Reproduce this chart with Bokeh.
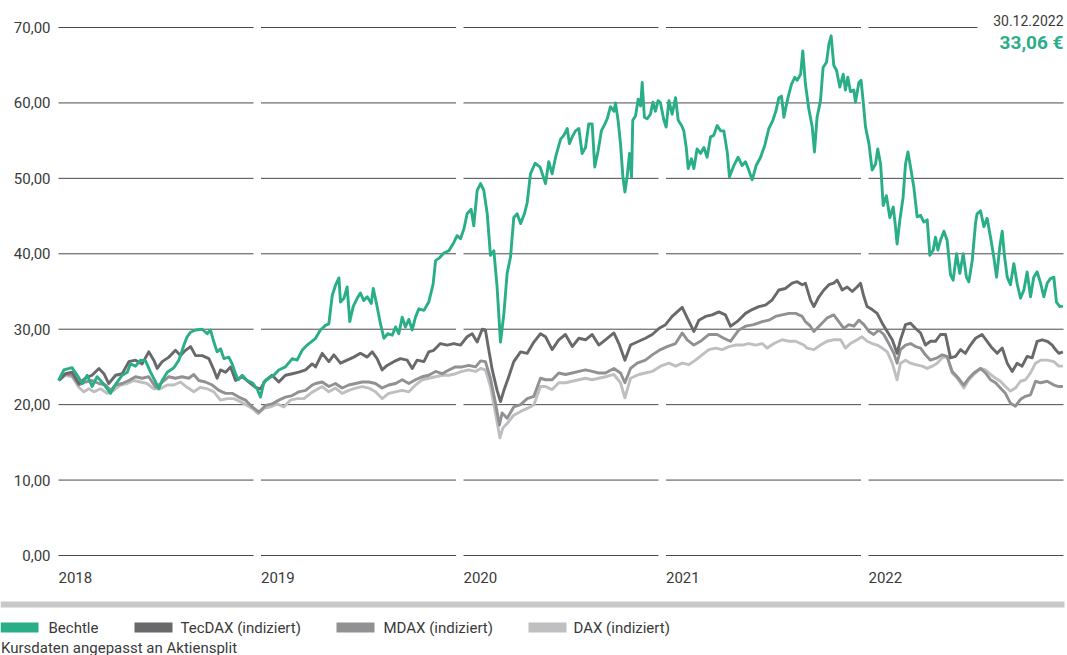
from bokeh.plotting import figure
from bokeh.models import Range1d
from bokeh.core.properties import value
from bokeh.embed import file_html
from bokeh.resources import INLINE

# ---------------- data ----------------
year_labels = ["2018", "2019", "2020", "2021", "2022"]
y_tick_values = [0, 10, 20, 30, 40, 50, 60, 70]
series_names = ["Bechtle", "TecDAX (indiziert)", "MDAX (indiziert)", "DAX (indiziert)"]
series_colors = ["#2aae88", "#69696c", "#919194", "#bfbfc2"]
last_date_label = "30.12.2022"
last_price = 33.06
footnote = "Kursdaten angepasst an Aktiensplit"

# x values: years elapsed since 1 Jan 2018
bechtle_t = [
    0.000, 0.027, 0.068, 0.093, 0.118, 0.143, 0.167, 0.192, 0.226, 0.259,
    0.284, 0.317, 0.342, 0.358, 0.383, 0.408, 0.433, 0.458, 0.483, 0.499,
    0.516, 0.541, 0.574, 0.599, 0.624, 0.640, 0.657, 0.682, 0.715, 0.740,
    0.756, 0.773, 0.789, 0.806, 0.823, 0.847, 0.864, 0.881, 0.894, 0.914,
    0.939, 0.964, 0.988, 1.005, 1.022, 1.046, 1.071, 1.096, 1.129, 1.163,
    1.187, 1.212, 1.237, 1.279, 1.303, 1.328, 1.345, 1.362, 1.378, 1.395,
    1.403, 1.420, 1.436, 1.449, 1.466, 1.486, 1.502, 1.519, 1.536, 1.556,
    1.566, 1.582, 1.602, 1.619, 1.638, 1.660, 1.677, 1.693, 1.710, 1.726,
    1.743, 1.760, 1.776, 1.793, 1.818, 1.842, 1.864, 1.876, 1.897, 1.917,
    1.942, 1.967, 1.983, 2.000, 2.017, 2.033, 2.053, 2.066, 2.083, 2.100,
    2.116, 2.133, 2.149, 2.166, 2.182, 2.199, 2.216, 2.232, 2.249, 2.265,
    2.282, 2.299, 2.318, 2.332, 2.348, 2.371, 2.396, 2.423, 2.439, 2.456,
    2.473, 2.498, 2.514, 2.531, 2.542, 2.556, 2.572, 2.589, 2.605, 2.622,
    2.638, 2.655, 2.668, 2.685, 2.701, 2.718, 2.730, 2.746, 2.763, 2.771,
    2.784, 2.796, 2.808, 2.818, 2.829, 2.841, 2.851, 2.857, 2.871, 2.884,
    2.896, 2.904, 2.915, 2.929, 2.945, 2.957, 2.970, 2.983, 2.995, 3.012,
    3.023, 3.037, 3.053, 3.070, 3.083, 3.100, 3.111, 3.123, 3.133, 3.149,
    3.161, 3.177, 3.194, 3.211, 3.227, 3.244, 3.260, 3.277, 3.294, 3.310,
    3.327, 3.338, 3.360, 3.381, 3.401, 3.418, 3.434, 3.451, 3.471, 3.493,
    3.514, 3.534, 3.554, 3.570, 3.584, 3.597, 3.609, 3.620, 3.634, 3.647,
    3.663, 3.675, 3.692, 3.703, 3.716, 3.733, 3.750, 3.761, 3.774, 3.791,
    3.804, 3.821, 3.833, 3.844, 3.857, 3.871, 3.887, 3.904, 3.915, 3.927,
    3.940, 3.957, 3.965, 3.982, 3.993, 4.003, 4.015, 4.032, 4.048, 4.065,
    4.076, 4.090, 4.103, 4.119, 4.136, 4.153, 4.164, 4.172, 4.186, 4.202,
    4.214, 4.226, 4.239, 4.255, 4.272, 4.289, 4.305, 4.322, 4.335, 4.352,
    4.363, 4.375, 4.388, 4.405, 4.421, 4.438, 4.451, 4.468, 4.484, 4.501,
    4.517, 4.529, 4.546, 4.562, 4.570, 4.587, 4.604, 4.620, 4.637, 4.653,
    4.667, 4.683, 4.695, 4.706, 4.720, 4.736, 4.753, 4.769, 4.786, 4.803,
    4.819, 4.836, 4.852, 4.869, 4.886, 4.902, 4.919, 4.935, 4.952, 4.965,
    4.982, 4.997,
]
bechtle_v = [
    23.2, 24.6, 24.9, 23.9, 22.8, 23.9, 22.4, 23.7, 22.7, 21.5,
    22.7, 23.9, 24.3, 25.4, 25.1, 25.9, 25.8, 24.3, 23.0, 22.1,
    23.2, 24.3, 24.9, 25.9, 27.9, 29.0, 29.6, 29.9, 30.0, 29.4,
    29.9, 28.3, 27.0, 27.4, 26.1, 26.3, 25.4, 24.1, 23.3, 23.9,
    23.2, 22.9, 22.1, 21.0, 23.0, 23.5, 23.9, 24.6, 25.0, 26.1,
    25.9, 27.2, 27.9, 28.8, 29.9, 30.5, 30.7, 34.5, 35.8, 36.8,
    33.6, 34.1, 35.6, 31.0, 33.0, 34.1, 34.8, 33.8, 34.3, 33.4,
    35.4, 33.4, 30.7, 28.8, 29.4, 29.2, 30.3, 29.4, 31.6, 30.3,
    31.3, 29.9, 31.6, 32.7, 32.5, 33.6, 36.0, 39.1, 39.5, 40.1,
    40.4, 41.5, 42.4, 42.0, 43.3, 45.3, 45.9, 43.7, 48.4, 49.3,
    48.4, 45.3, 39.8, 40.4, 35.6, 28.3, 32.1, 37.4, 39.6, 44.8,
    45.3, 44.0, 45.3, 46.8, 50.6, 52.0, 51.5, 49.3, 52.2, 50.6,
    52.8, 55.2, 55.7, 56.6, 54.6, 55.5, 56.3, 56.6, 53.3, 54.1,
    57.2, 57.2, 51.5, 53.7, 56.3, 57.2, 57.9, 59.5, 58.9, 60.0,
    57.7, 54.6, 50.2, 48.2, 50.2, 53.3, 50.2, 57.7, 58.3, 60.5,
    59.6, 62.7, 58.1, 57.9, 58.5, 60.1, 58.9, 60.3, 60.0, 57.7,
    56.8, 60.3, 58.5, 60.7, 57.7, 57.0, 56.3, 54.1, 51.3, 52.6,
    51.3, 53.9, 53.3, 54.1, 52.8, 55.5, 55.7, 57.0, 56.3, 56.3,
    53.5, 50.2, 51.7, 52.8, 51.7, 52.2, 51.1, 49.8, 51.7, 52.8,
    54.4, 56.6, 57.7, 59.0, 60.7, 60.9, 58.1, 59.6, 61.2, 62.5,
    63.4, 63.0, 63.8, 66.9, 62.5, 59.2, 56.8, 53.5, 58.1, 60.3,
    64.7, 65.4, 67.8, 68.9, 65.0, 64.3, 62.1, 63.8, 61.7, 63.4,
    61.5, 61.7, 60.1, 62.7, 63.0, 60.3, 56.8, 54.6, 51.1, 51.9,
    53.9, 51.9, 46.4, 47.7, 44.8, 46.2, 43.6, 41.3, 44.5, 47.5,
    51.9, 53.5, 51.5, 48.9, 44.9, 45.1, 44.2, 44.5, 39.8, 40.5,
    42.2, 40.5, 41.8, 43.0, 41.8, 37.2, 36.5, 40.0, 37.4, 40.0,
    36.9, 36.3, 39.1, 44.0, 45.3, 45.7, 43.6, 44.7, 42.2, 39.6,
    36.9, 40.9, 43.0, 39.8, 36.9, 35.9, 38.7, 36.1, 34.1, 35.2,
    37.6, 34.3, 36.9, 37.6, 36.1, 34.3, 36.1, 36.7, 36.9, 33.6,
    33.0, 33.06,
]

tecdax_t = [
    0.002, 0.035, 0.068, 0.101, 0.134, 0.167, 0.201, 0.226, 0.250, 0.284,
    0.317, 0.350, 0.383, 0.416, 0.449, 0.474, 0.491, 0.516, 0.549, 0.582,
    0.607, 0.632, 0.657, 0.682, 0.715, 0.748, 0.773, 0.789, 0.806, 0.831,
    0.856, 0.881, 0.914, 0.947, 0.980, 1.005, 1.030, 1.063, 1.096, 1.129,
    1.163, 1.196, 1.229, 1.262,
    1.279, 1.312, 1.345, 1.370, 1.403, 1.436, 1.469, 1.502, 1.536, 1.561,
    1.585, 1.610, 1.635, 1.668, 1.701, 1.735, 1.760, 1.784, 1.818, 1.842,
    1.867, 1.900, 1.934, 1.967, 2.000, 2.033, 2.058, 2.083, 2.108, 2.124,
    2.141, 2.158, 2.182, 2.199, 2.216, 2.240, 2.265, 2.299, 2.332, 2.365,
    2.398,
    2.423, 2.456, 2.489, 2.522, 2.556, 2.589, 2.622, 2.655, 2.688, 2.721,
    2.763, 2.788, 2.818, 2.846, 2.887, 2.920, 2.954, 2.987, 3.020, 3.053,
    3.078, 3.103, 3.128, 3.161, 3.186, 3.219, 3.252, 3.285, 3.318, 3.343,
    3.376, 3.418, 3.451, 3.484, 3.517, 3.551, 3.584, 3.617, 3.650, 3.675,
    3.700,
    3.716, 3.741, 3.758, 3.783, 3.808, 3.833, 3.857, 3.874, 3.899, 3.924,
    3.949, 3.973, 3.990, 4.007, 4.023, 4.048, 4.073, 4.098, 4.123, 4.148,
    4.172, 4.189, 4.214, 4.239, 4.264, 4.289, 4.313, 4.338, 4.363, 4.388,
    4.413, 4.438, 4.463, 4.488, 4.512, 4.537, 4.562, 4.595, 4.620, 4.645,
    4.670, 4.695, 4.720, 4.745, 4.769, 4.794, 4.819, 4.844, 4.869, 4.894,
    4.919, 4.944, 4.960, 4.977, 4.997,
]
tecdax_v = [
    23.2, 24.1, 24.3, 22.8, 23.5, 23.9, 24.8, 24.1, 22.8, 23.9,
    24.1, 25.7, 25.9, 25.4, 27.0, 25.9, 24.8, 25.7, 26.3, 27.2,
    26.5, 27.2, 27.7, 26.5, 26.5, 26.1, 24.6, 23.5, 24.6, 24.3,
    25.0, 23.2, 23.7, 23.0, 22.3, 22.1, 23.2, 23.9, 23.0, 23.9,
    24.1, 24.3, 24.6, 25.4,
    25.0, 26.8, 25.7, 26.6, 25.5, 25.9, 26.3, 26.8, 26.3, 27.0,
    26.1, 24.6, 25.2, 25.7, 26.1, 25.9, 24.8, 25.9, 25.7, 27.0,
    27.2, 28.1, 27.9, 28.1, 27.9, 29.0, 29.4, 28.3, 30.0, 29.9,
    27.2, 24.6, 21.9, 20.4, 21.9, 23.7, 25.7, 27.0, 26.8, 28.3,
    29.4,
    29.0, 27.3, 28.6, 29.3, 27.7, 28.8, 28.6, 29.3, 27.9, 28.6,
    29.5, 28.1, 25.9, 27.9, 28.4, 28.8, 29.3, 30.1, 30.6, 31.7,
    32.3, 32.9, 31.5, 29.7, 31.2, 31.7, 31.9, 32.3, 31.9, 30.4,
    31.0, 32.1, 32.6, 33.0, 33.2, 33.9, 35.2, 35.4, 36.1, 36.3,
    35.9,
    36.1, 33.9, 33.0, 34.3, 35.2, 35.9, 36.1, 36.5, 35.2, 35.6,
    35.0, 35.6, 36.1, 34.3, 33.0, 32.6, 32.1, 30.8, 29.7, 28.6,
    26.8, 28.6, 30.6, 30.8, 30.1, 29.5, 27.9, 28.4, 28.4, 29.3,
    29.3, 26.2, 26.4, 27.3, 26.8, 27.9, 28.8, 29.3, 28.4, 27.5,
    26.8, 27.5, 25.5, 24.4, 25.5, 25.1, 26.4, 26.2, 28.4, 28.6,
    28.4, 27.9, 27.3, 26.8, 27.0,
]

mdax_t = [
    0.002, 0.035, 0.068, 0.101, 0.134, 0.167, 0.201, 0.234, 0.259, 0.284,
    0.317, 0.350, 0.383, 0.416, 0.449, 0.483, 0.516, 0.549, 0.582, 0.615,
    0.648, 0.673, 0.698, 0.731, 0.765, 0.798, 0.831, 0.864, 0.897, 0.930,
    0.964, 0.997, 1.030, 1.063, 1.096, 1.129, 1.163, 1.196, 1.229, 1.262,
    1.279, 1.312, 1.345, 1.378, 1.411, 1.444, 1.478, 1.511, 1.544, 1.577,
    1.610, 1.643, 1.677, 1.710, 1.743, 1.776, 1.809, 1.842, 1.876, 1.909,
    1.942, 1.975, 2.008, 2.041, 2.075, 2.100, 2.124, 2.149, 2.174, 2.194,
    2.207, 2.232, 2.265, 2.299, 2.332, 2.365, 2.398,
    2.423, 2.456, 2.489, 2.522, 2.556, 2.589, 2.622, 2.655, 2.688, 2.721,
    2.763, 2.796, 2.818, 2.846, 2.879, 2.920, 2.954, 2.995, 3.028, 3.070,
    3.103, 3.128, 3.161, 3.194, 3.236, 3.277, 3.310, 3.343, 3.385, 3.418,
    3.459, 3.501, 3.534, 3.567, 3.600, 3.634, 3.667, 3.700,
    3.716, 3.741, 3.758, 3.791, 3.824, 3.857, 3.882, 3.907, 3.932, 3.957,
    3.982, 4.007, 4.032, 4.056, 4.081, 4.106, 4.131, 4.156, 4.172, 4.189,
    4.214, 4.239, 4.264, 4.289, 4.313, 4.338, 4.371, 4.396, 4.421, 4.446,
    4.471, 4.504, 4.529, 4.554, 4.587, 4.612, 4.637, 4.662, 4.686, 4.711,
    4.736, 4.761, 4.786, 4.811, 4.836, 4.861, 4.886, 4.919, 4.952, 4.977,
    4.997,
]
mdax_v = [
    23.3, 24.1, 23.9, 22.6, 23.0, 23.2, 22.8, 22.6, 21.9, 22.6,
    22.8, 23.2, 23.7, 23.5, 23.7, 22.3, 23.0, 23.7, 23.5, 23.7,
    23.5, 24.0, 23.2, 23.0, 22.6, 21.9, 21.5, 21.5, 21.0, 20.6,
    19.7, 19.0, 19.9, 20.1, 20.6, 21.0, 21.2, 21.7, 21.9, 22.6,
    22.8, 23.0, 22.4, 22.8, 22.2, 22.6, 22.8, 23.0, 23.0, 22.8,
    22.2, 22.6, 22.8, 23.3, 22.8, 23.3, 23.7, 23.9, 24.4, 24.1,
    24.6, 25.0, 25.0, 25.2, 25.0, 25.8, 25.7, 23.5, 20.2, 17.3,
    18.9, 18.2, 19.7, 20.0, 20.8, 21.1, 23.5,
    23.3, 23.3, 24.2, 24.0, 24.2, 24.4, 24.6, 24.4, 24.2, 24.2,
    24.8, 24.2, 22.9, 24.8, 25.5, 25.9, 26.6, 27.3, 27.7, 28.1,
    29.5, 28.6, 27.9, 28.4, 29.3, 29.3, 28.8, 28.4, 29.9, 30.4,
    30.6, 31.0, 31.2, 31.7, 31.9, 32.1, 32.1, 31.7,
    31.0, 30.4, 29.7, 30.6, 31.5, 31.9, 31.0, 30.1, 30.6, 30.4,
    31.2, 30.6, 29.7, 29.3, 29.9, 29.3, 28.1, 26.8, 25.5, 27.3,
    27.9, 28.1, 27.7, 27.5, 26.6, 25.9, 26.2, 26.6, 26.4, 24.4,
    23.7, 22.6, 23.5, 24.2, 24.8, 24.2, 23.3, 22.9, 22.2, 21.5,
    20.2, 19.8, 20.7, 21.1, 21.3, 23.1, 22.9, 23.1, 22.6, 22.4,
    22.4,
]

dax_t = [
    0.002, 0.035, 0.068, 0.101, 0.126, 0.151, 0.176, 0.209, 0.242, 0.275,
    0.308, 0.342, 0.375, 0.408, 0.441, 0.474, 0.507, 0.541, 0.574, 0.607,
    0.640, 0.673, 0.706, 0.740, 0.773, 0.806, 0.839, 0.872, 0.905, 0.939,
    0.964, 0.993, 1.022, 1.055, 1.088, 1.121, 1.154, 1.187, 1.221, 1.254,
    1.279, 1.312, 1.345, 1.378, 1.411, 1.444, 1.478, 1.511, 1.544, 1.577,
    1.610, 1.643, 1.677, 1.710, 1.743, 1.776, 1.809, 1.842, 1.876, 1.909,
    1.942, 1.975, 2.008, 2.041, 2.075, 2.100, 2.124, 2.149, 2.174, 2.196,
    2.211, 2.232, 2.265, 2.299, 2.332, 2.365, 2.398,
    2.423, 2.456, 2.489, 2.522, 2.556, 2.589, 2.622, 2.655, 2.688, 2.721,
    2.763, 2.796, 2.818, 2.846, 2.887, 2.920, 2.954, 2.995, 3.037, 3.070,
    3.103, 3.136, 3.169, 3.202, 3.236, 3.269, 3.302, 3.335, 3.368, 3.401,
    3.434, 3.468, 3.501, 3.526, 3.559, 3.600, 3.634, 3.667, 3.708,
    3.724, 3.758, 3.791, 3.824, 3.857, 3.891, 3.915, 3.940, 3.973, 3.998,
    4.023, 4.048, 4.073, 4.098, 4.123, 4.148, 4.172, 4.189, 4.214, 4.239,
    4.264, 4.297, 4.322, 4.347, 4.371, 4.396, 4.421, 4.446, 4.471, 4.504,
    4.529, 4.554, 4.587, 4.612, 4.637, 4.662, 4.686, 4.711, 4.736, 4.761,
    4.786, 4.811, 4.836, 4.861, 4.886, 4.919, 4.952, 4.977, 4.997,
]
dax_v = [
    23.2, 23.9, 23.7, 22.3, 21.7, 22.1, 21.7, 22.1, 21.5, 21.9,
    22.6, 22.8, 23.2, 23.0, 22.8, 22.1, 22.1, 22.6, 22.6, 23.0,
    22.3, 21.7, 22.3, 22.1, 21.7, 20.6, 20.8, 20.8, 20.4, 19.9,
    19.5, 18.8, 19.5, 19.7, 20.1, 19.7, 20.6, 20.8, 20.8, 21.5,
    21.9, 22.4, 21.7, 22.2, 21.5, 21.9, 22.2, 22.4, 22.2, 21.7,
    20.8, 21.5, 21.7, 21.9, 21.7, 22.6, 23.3, 23.5, 23.7, 23.9,
    23.9, 24.1, 24.4, 24.6, 24.4, 24.8, 24.6, 22.4, 18.9, 15.6,
    16.9, 17.5, 18.6, 19.1, 19.5, 20.0, 22.4,
    22.4, 22.0, 22.9, 22.9, 23.1, 23.3, 23.5, 23.3, 23.5, 23.7,
    24.0, 22.9, 20.9, 23.5, 24.0, 24.2, 24.4, 25.1, 25.5, 25.1,
    25.5, 25.3, 25.9, 26.6, 27.3, 27.5, 27.3, 27.7, 27.9, 27.9,
    28.1, 27.9, 28.1, 27.5, 28.1, 28.6, 28.4, 28.4, 27.9,
    27.5, 27.3, 27.9, 28.4, 28.6, 28.6, 27.5, 28.1, 28.6, 29.0,
    28.4, 28.1, 27.9, 27.5, 27.0, 25.5, 23.3, 25.5, 25.9, 25.5,
    25.3, 25.1, 24.8, 25.1, 25.5, 26.2, 26.4, 24.2, 23.5, 22.2,
    23.3, 24.0, 24.8, 24.6, 24.0, 23.5, 23.1, 22.4, 21.8, 22.2,
    23.1, 23.3, 24.2, 25.5, 25.9, 25.9, 25.7, 25.1, 25.1,
]

# ---------------- layout (positions from the reference, in pixels) ----------------
W, H = 1067, 655
REF_X0, REF_X_END = 58, 1063      # pixel of start / end of the data
REF_Y0, REF_Y70 = 555, 27         # pixel of value 0 / 70
PX_PER_YEAR = (REF_X_END - REF_X0) / 5
PX_PER_UNIT = (REF_Y0 - REF_Y70) / 70


def rx(px):
    return (px - REF_X0) / PX_PER_YEAR


def ry(px):
    return (REF_Y0 - px) / PX_PER_UNIT


FONT = value("Roboto")
TEXT_COLOR = "#3a3a3a"

p = figure(
    width=W, height=H,
    x_range=Range1d(rx(0), rx(W)),
    y_range=Range1d(ry(H), ry(0)),
    output_backend="svg", toolbar_location=None,
    x_axis_location=None, y_axis_location=None,
    min_border=0, outline_line_color=None,
    background_fill_color="white", border_fill_color="white",
)
p.grid.grid_line_color = None

# segmented horizontal grid lines (one segment per year)
gx0, gx1, gy = [], [], []
for i, _ in enumerate(year_labels):
    seg_start = REF_X0 + i * 202.5
    for v in y_tick_values:
        seg_end = seg_start + 195
        if v == y_tick_values[-1] and i == len(year_labels) - 1:
            seg_end = 977
        gx0.append(rx(seg_start))
        gx1.append(rx(seg_end))
        gy.append(v)
p.segment(x0=gx0, y0=gy, x1=gx1, y1=gy, line_color="#4a4a4a", line_width=1)

# y tick labels
p.text(x=[rx(50)] * len(y_tick_values), y=y_tick_values,
       text=[f"{v:.2f}".replace(".", ",") for v in y_tick_values],
       text_font=FONT, text_font_size=value("15px"), text_color=TEXT_COLOR,
       text_align="right", text_baseline="middle")

# year labels
p.text(x=[rx(REF_X0 + i * 202.5) for i in range(len(year_labels))],
       y=[ry(577)] * len(year_labels), text=year_labels,
       text_font=FONT, text_font_size=value("15px"), text_color=TEXT_COLOR,
       text_align="left", text_baseline="middle")

# series lines
series = [
    (dax_t, dax_v, series_colors[3]),
    (mdax_t, mdax_v, series_colors[2]),
    (tecdax_t, tecdax_v, series_colors[1]),
    (bechtle_t, bechtle_v, series_colors[0]),
]
for ts, vs, col in series:
    n = min(len(ts), len(vs))
    p.line(ts[:n], vs[:n], line_color=col, line_width=2.9, line_join="round")

# closing price annotation
p.text(x=[rx(1063)], y=[ry(20)], text=[last_date_label],
       text_font=FONT, text_font_size=value("14px"), text_color=TEXT_COLOR,
       text_align="right", text_baseline="middle")
p.text(x=[rx(1063)], y=[ry(42)], text=[f"{last_price:.2f}".replace(".", ",") + " €"],
       text_font=FONT, text_font_size=value("19px"), text_font_style="bold",
       text_color=series_colors[0], text_align="right", text_baseline="middle")

# separator bar
p.quad(left=[rx(0)], right=[rx(1064)], top=[ry(601)], bottom=[ry(607)],
       fill_color="#c8c8ca", line_color=None)

# legend
swatch_px = [0, 134, 336, 528]
label_px = [48, 180, 383, 573]
p.quad(left=[rx(x) for x in swatch_px], right=[rx(x + 38) for x in swatch_px],
       top=[ry(622)] * 4, bottom=[ry(632)] * 4,
       fill_color=series_colors, line_color=None)
p.text(x=[rx(x) for x in label_px], y=[ry(627)] * 4, text=series_names,
       text_font=FONT, text_font_size=value("15px"), text_color=TEXT_COLOR,
       text_align="left", text_baseline="middle")

# footnote
p.text(x=[rx(0.5)], y=[ry(647)], text=[footnote],
       text_font=FONT, text_font_size=value("15px"), text_color=TEXT_COLOR,
       text_align="left", text_baseline="middle")

open("out.html", "w").write(file_html(p, INLINE, title="Bechtle Aktie"))
